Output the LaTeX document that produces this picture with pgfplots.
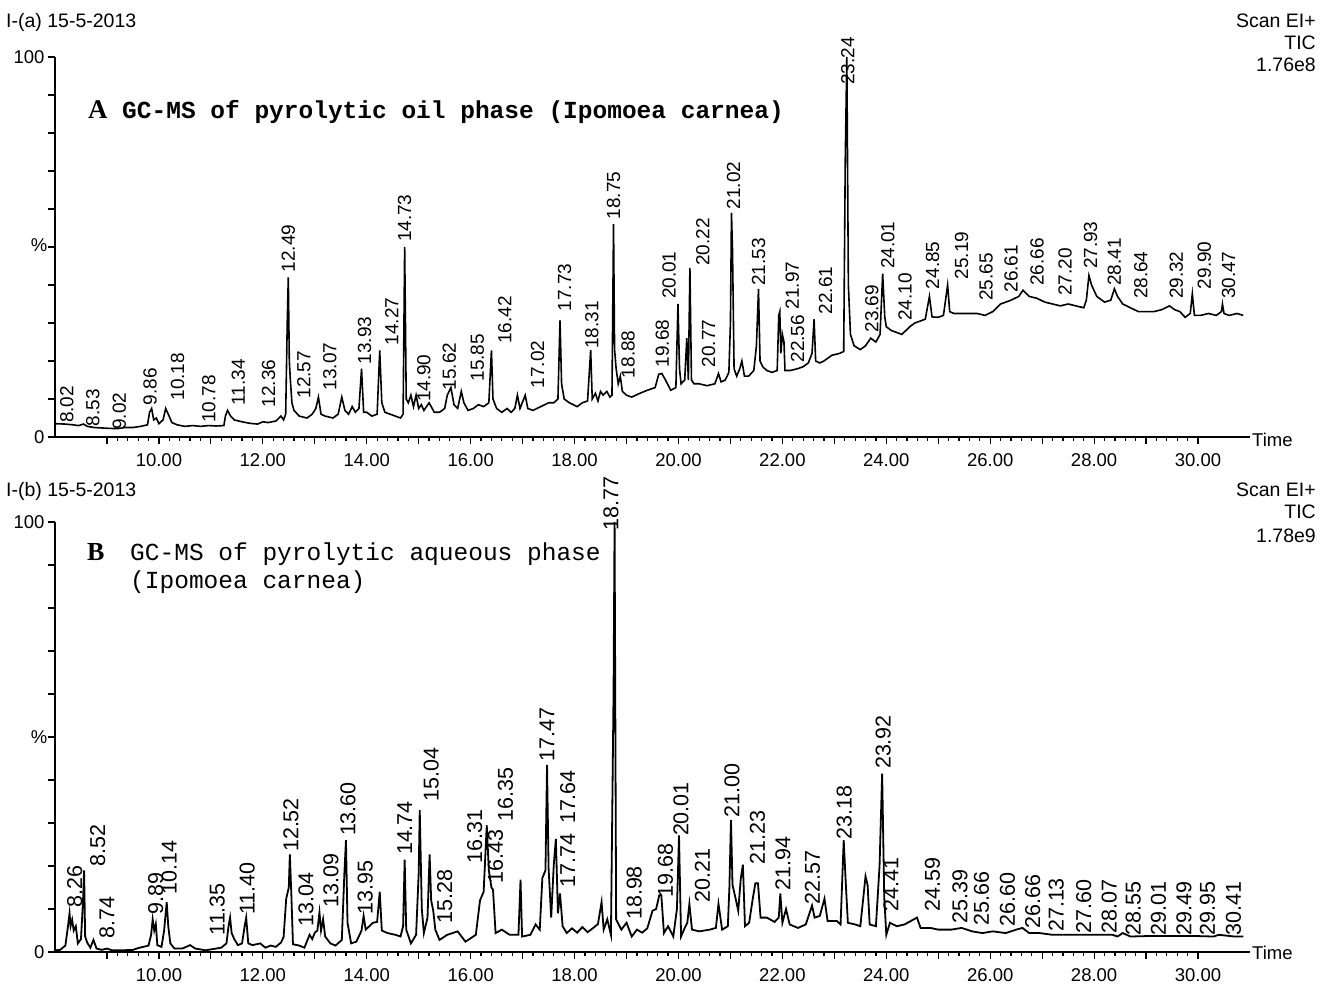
\documentclass[border=0pt]{standalone}
\usepackage{pgfplots}
\pgfplotsset{compat=1.18}
\usepackage{fontspec}
\setmainfont{Liberation Sans}
\newfontfamily\monofont{Liberation Mono}
\newfontfamily\seriffont{Liberation Serif}
\newcommand\hdr{\fontsize{19.5}{21}\selectfont}
\newcommand\tickf{\fontsize{18.5}{20}\selectfont}
\newcommand\ttl{\monofont\fontsize{24.5}{27}\selectfont}
\newcommand\pk[3]{\node[rotate=90,anchor=west,inner sep=1pt,font=\fontsize{19}{19}\selectfont] at (axis cs:#1,#2) {#3};}
\newcommand\pkb[3]{\node[rotate=90,anchor=west,inner sep=1pt,font=\fontsize{21.5}{21}\selectfont] at (axis cs:#1,#2) {#3};}

\pgfplotsset{
  gc/.style={
    scale only axis, anchor=south west, width=1195pt,
    xmin=8, xmax=31, ymin=0, ymax=100,
    axis x line*=bottom, axis y line*=left,
    axis line style={line width=1.8pt},
    tick align=outside,
    xtick={9,...,30},
    xticklabels={,10.00,,12.00,,14.00,,16.00,,18.00,,20.00,,22.00,,24.00,,26.00,,28.00,,30.00},
    minor x tick num=4,
    ytick={0,10,...,100},
    yticklabels={0,,,,,,,,,,100},
    major tick length=7pt, minor tick length=4pt,
    tick style={black, line width=1.2pt},
    xticklabel style={font=\tickf, yshift=-6pt},
    yticklabel style={font=\tickf},
    clip=false,
  }
}

\begin{document}
\begin{tikzpicture}[x=1pt,y=1pt]
\path[use as bounding box] (0,0) rectangle (1322,986);

% headers
\node[anchor=base west, inner sep=0, font=\hdr] at (6,958) {I-(a) 15-5-2013};
\node[anchor=base east, inner sep=0, font=\hdr] at (1316,958) {Scan EI+};
\node[anchor=base east, inner sep=0, font=\hdr] at (1316,936) {TIC};
\node[anchor=base east, inner sep=0, font=\hdr] at (1316,914) {1.76e8};
\node[anchor=base west, inner sep=0, font=\hdr] at (6,489) {I-(b) 15-5-2013};
\node[anchor=base east, inner sep=0, font=\hdr] at (1316,489) {Scan EI+};
\node[anchor=base east, inner sep=0, font=\hdr] at (1316,467) {TIC};
\node[anchor=base east, inner sep=0, font=\hdr] at (1316,443) {1.78e9};

% titles
\node[anchor=base west, inner sep=0, font=\seriffont\bfseries\fontsize{27}{29}\selectfont] at (88,867) {A};
\node[anchor=base west, inner sep=0, font=\ttl\bfseries] at (122,867) {GC-MS of pyrolytic oil phase (Ipomoea carnea)};
\node[anchor=base west, inner sep=0, font=\seriffont\bfseries\fontsize{26}{28}\selectfont] at (87,425) {B};
\node[anchor=base west, inner sep=0, font=\ttl] at (130,425) {GC-MS of pyrolytic aqueous phase};
\node[anchor=base west, inner sep=0, font=\ttl] at (130,397) {(Ipomoea carnea)};

% % and Time labels
\node[font=\tickf] at (39,741) {\%};
\node[font=\tickf] at (39,249) {\%};
\node[anchor=west, inner sep=0, font=\tickf] at (1252,546) {Time};
\node[anchor=west, inner sep=0, font=\tickf] at (1252,33) {Time};

% ---------------- top panel ----------------
\begin{axis}[gc, at={(55pt,549pt)}, height=380pt]
\addplot[black, line width=1.6pt] coordinates {
(8.00,3.5) (8.20,3.4) (8.35,3.2) (8.45,3.0) (8.55,3.4) (8.62,2.8) (8.75,2.5) (9.0,2.3)
(9.2,2.2) (9.35,2.5) (9.5,2.5) (9.65,2.8) (9.78,3.2) (9.82,6.5) (9.86,7.5) (9.90,4.5)
(9.95,5) (10.0,3.5) (10.08,4.5) (10.13,7.5) (10.18,6) (10.25,3.8) (10.35,3.2) (10.5,2.8)
(10.65,3.0) (10.8,2.8) (10.95,3.0) (11.1,2.9) (11.25,3.0) (11.28,5.5) (11.32,7.0) (11.38,5.5)
(11.45,4.5) (11.6,4.0) (11.75,3.6) (11.9,3.4) (12.0,4.0) (12.1,3.8) (12.25,4.2) (12.35,5.5)
(12.40,4.5) (12.44,6) (12.47,30) (12.49,42) (12.51,20) (12.53,15) (12.56,9) (12.60,7)
(12.7,5.5) (12.85,5) (12.95,6) (13.02,7.5) (13.07,10.5) (13.12,6) (13.2,5.5) (13.35,5)
(13.45,6) (13.52,10.5) (13.58,7) (13.65,6) (13.72,8) (13.78,6.5) (13.85,7.5) (13.90,18)
(13.94,6.5) (14.0,6.5) (14.1,5.5) (14.2,6) (14.25,22.8) (14.29,9) (14.35,6.5) (14.45,6)
(14.55,5.5) (14.65,5.0) (14.70,6) (14.73,50) (14.76,10) (14.8,9) (14.85,11) (14.9,8)
(14.95,11) (15.0,7.5) (15.05,8.5) (15.1,7) (15.2,9) (15.3,6.5) (15.4,6.5) (15.5,7.5)
(15.55,11) (15.62,13) (15.68,8.5) (15.75,7.5) (15.82,12) (15.87,9) (15.95,7) (16.05,7.5)
(16.15,8.5) (16.25,8) (16.35,9) (16.40,22.8) (16.43,10) (16.5,7.5) (16.6,6.5) (16.7,7.5)
(16.78,6.5) (16.85,7.5) (16.9,11) (16.95,7.5) (17.05,11) (17.1,7.5) (17.2,7) (17.35,8)
(17.5,9) (17.6,9) (17.68,10) (17.72,30.7) (17.75,14) (17.8,10) (17.9,9) (18.05,8)
(18.15,9) (18.25,9.5) (18.31,22.9) (18.34,10) (18.4,11.5) (18.45,9.5) (18.5,12) (18.55,11)
(18.62,12) (18.68,10.5) (18.72,11) (18.75,56) (18.77,23) (18.8,18) (18.84,14) (18.88,16)
(18.92,12) (19.0,11) (19.1,10.5) (19.24,11.4) (19.4,12.3) (19.55,13) (19.62,16.5) (19.68,16.7)
(19.75,15) (19.85,12.3) (19.95,13) (19.99,35) (20.02,18) (20.05,14) (20.12,15) (20.16,26)
(20.19,15) (20.22,44.5) (20.25,15) (20.3,14) (20.4,14) (20.55,13.5) (20.7,14) (20.77,16.7)
(20.82,14.5) (20.9,15) (20.97,17) (21.00,30) (21.02,59) (21.04,49) (21.07,18) (21.12,16)
(21.18,18) (21.22,20) (21.27,16) (21.35,16) (21.45,17.5) (21.50,24) (21.54,39) (21.57,20)
(21.62,18.5) (21.7,17.5) (21.8,17) (21.9,17.5) (21.93,32) (21.95,33) (21.97,22) (22.0,27)
(22.03,25) (22.05,17.5) (22.15,17.5) (22.3,18) (22.4,18.5) (22.5,19.5) (22.57,22) (22.61,31)
(22.64,20) (22.72,19.5) (22.8,20) (22.95,21.5) (23.1,22) (23.18,22.5) (23.21,73) (23.24,100)
(23.27,40) (23.31,27) (23.38,24) (23.5,23) (23.6,24) (23.7,26) (23.8,25) (23.88,27)
(23.93,43) (23.97,31.6) (24.0,29) (24.1,28) (24.2,27.5) (24.3,27) (24.45,29) (24.55,30)
(24.65,30.5) (24.75,31) (24.83,37) (24.88,31.6) (25.0,31.5) (25.1,32) (25.18,40) (25.22,33)
(25.3,32.5) (25.45,32.5) (25.6,32.5) (25.75,32.5) (25.9,32) (26.05,33) (26.2,35) (26.4,36)
(26.55,37) (26.63,38.6) (26.75,37) (26.9,36.5) (27.05,35.5) (27.2,35) (27.35,34.5) (27.5,35)
(27.65,34.5) (27.8,34) (27.85,36) (27.9,42.5) (27.95,40) (28.05,37) (28.2,35.5) (28.32,36)
(28.39,39) (28.45,37) (28.55,35) (28.7,34) (28.85,33) (29.0,33) (29.15,33) (29.3,33.5)
(29.45,34.5) (29.55,33.5) (29.65,33) (29.75,31.5) (29.85,32.5) (29.89,37.7) (29.93,32) (30.05,32)
(30.2,32.5) (30.35,32) (30.45,33) (30.47,35) (30.5,32.5) (30.6,32) (30.75,32.5) (30.87,32)
};
\pk{8.23}{3.4}{8.02}
\pk{8.73}{2.5}{8.53}
\pk{9.24}{1.6}{9.02}
\pk{9.83}{8}{9.86}
\pk{10.36}{9.3}{10.18}
\pk{10.96}{3.4}{10.78}
\pk{11.53}{8}{11.34}
\pk{12.11}{7.5}{12.36}
\pk{12.49}{43}{12.49}
\pk{12.79}{9.8}{12.57}
\pk{13.29}{12}{13.07}
\pk{13.96}{18.8}{13.93}
\pk{14.48}{23.8}{14.27}
\pk{14.73}{51}{14.73}
\pk{15.10}{8.9}{14.90}
\pk{15.59}{12}{15.62}
\pk{16.13}{14.3}{15.85}
\pk{16.66}{24.2}{16.42}
\pk{17.29}{12.5}{17.02}
\pk{17.81}{32.8}{17.73}
\pk{18.33}{22.9}{18.31}
\pk{18.75}{57}{18.75}
\pk{19.03}{15.2}{18.88}
\pk{19.69}{18}{19.68}
\pk{19.82}{36}{20.01}
\pk{20.47}{44.7}{20.22}
\pk{20.58}{18}{20.77}
\pk{21.06}{59.6}{21.02}
\pk{21.54}{39.5}{21.53}
\pk{22.19}{33.3}{21.97}
\pk{22.29}{19.3}{22.56}
\pk{22.83}{32}{22.61}
\pk{23.26}{92.4}{23.24}
\pk{23.72}{27.2}{23.69}
\pk{24.03}{43.9}{24.01}
\pk{24.36}{30.3}{24.10}
\pk{24.89}{38.6}{24.85}
\pk{25.45}{41.2}{25.19}
\pk{25.92}{35.5}{25.65}
\pk{26.40}{37.7}{26.61}
\pk{26.90}{39.5}{26.66}
\pk{27.44}{36.8}{27.20}
\pk{27.93}{43.9}{27.93}
\pk{28.39}{39.5}{28.41}
\pk{28.90}{36}{28.64}
\pk{29.58}{36}{29.32}
\pk{30.12}{38.6}{29.90}
\pk{30.59}{36}{30.47}
\end{axis}

% ---------------- bottom panel ----------------
\begin{axis}[gc, at={(55pt,34pt)}, height=430pt]
\addplot[black, line width=1.8pt] coordinates {
(8.00,0.4) (8.1,0.5) (8.2,1.5) (8.25,6) (8.28,9) (8.30,6) (8.33,7.5) (8.36,5) (8.40,6)
(8.44,2) (8.50,3) (8.54,12) (8.56,19) (8.58,3.6) (8.62,2.2) (8.68,1.0) (8.74,2.8) (8.80,0.8)
(8.9,0.5) (9.0,0.8) (9.1,0.4) (9.3,0.4) (9.5,0.5) (9.6,0.9) (9.7,1.2) (9.8,1.5) (9.85,4)
(9.88,7.6) (9.91,5) (9.94,6.5) (9.97,1.6) (10.05,1.2) (10.10,5) (10.15,11.6) (10.18,6) (10.22,2)
(10.3,0.8) (10.45,0.8) (10.6,1.6) (10.7,0.8) (10.9,0.4) (11.1,0.8) (11.2,1.0) (11.3,2) (11.34,6)
(11.37,8) (11.40,4.4) (11.45,3) (11.52,1.6) (11.6,2) (11.65,6) (11.68,8) (11.72,2) (11.8,1.6)
(11.95,2.0) (12.05,1.0) (12.15,1.5) (12.25,1.2) (12.35,2.2) (12.40,3.5) (12.45,12.4) (12.50,15) (12.52,22.7)
(12.55,13) (12.58,1.8) (12.7,1.5) (12.8,1.0) (12.9,4) (12.95,3) (13.0,4.5) (13.05,5) (13.09,9.2)
(13.12,5) (13.16,7.6) (13.2,3.6) (13.3,2.0) (13.4,1.5) (13.52,2.8) (13.57,18.4) (13.60,26) (13.63,6.8)
(13.7,2) (13.8,2.4) (13.9,5) (13.94,8.4) (13.98,5.2) (14.05,6) (14.12,6.8) (14.2,7) (14.25,14)
(14.29,5) (14.4,4.4) (14.55,4) (14.65,3.6) (14.70,6) (14.73,21.5) (14.76,5.2) (14.85,2) (14.95,4)
(15.0,18.4) (15.02,33) (15.06,10) (15.1,4.4) (15.17,8) (15.21,22.7) (15.24,12) (15.28,9.6) (15.32,5.2)
(15.4,2.8) (15.55,4) (15.75,4.8) (15.9,2.4) (16.1,4) (16.18,12) (16.25,14) (16.31,29.5) (16.35,19)
(16.40,15) (16.43,14.5) (16.48,4.4) (16.6,5.2) (16.75,4) (16.92,4) (16.96,16.8) (16.99,3.6) (17.15,4)
(17.25,6.4) (17.33,5.2) (17.38,17.2) (17.44,19) (17.47,43.5) (17.50,19.5) (17.55,8) (17.60,20.3) (17.64,26.3)
(17.68,9) (17.72,13.6) (17.77,6) (17.85,4.4) (17.95,5.5) (18.05,4.5) (18.15,5.8) (18.25,4.6) (18.35,5.5)
(18.45,6.5) (18.52,11.6) (18.56,5.2) (18.63,7.6) (18.70,4) (18.75,60) (18.77,100) (18.80,7.6) (18.9,5.2)
(19.0,6.8) (19.1,3.6) (19.2,5.2) (19.3,4.5) (19.40,5.5) (19.50,9.6) (19.57,10) (19.63,13.2) (19.67,13.2)
(19.72,4.4) (19.8,6) (19.9,3.6) (19.97,10) (20.01,27.1) (20.05,3.6) (20.12,5.6) (20.17,6.8) (20.21,11.2)
(20.26,5.2) (20.4,4.8) (20.6,5.2) (20.72,5.6) (20.77,11.2) (20.84,5.2) (20.95,6) (20.98,15) (21.01,30.7)
(21.04,15.6) (21.1,12.4) (21.15,9.6) (21.2,17.2) (21.24,20.3) (21.28,6) (21.36,6.8) (21.43,12.4) (21.48,16)
(21.53,16) (21.58,8) (21.7,8) (21.85,7) (21.93,8) (21.96,13.6) (22.0,6.8) (22.07,10) (22.14,6.4)
(22.3,5.6) (22.45,6.4) (22.57,10.8) (22.62,8) (22.72,8.4) (22.81,12.4) (22.87,7.2) (23.05,7.2) (23.12,6.4)
(23.18,26) (23.22,16) (23.26,6.8) (23.4,6.4) (23.5,6) (23.6,17.6) (23.64,15.6) (23.68,6.4) (23.8,6)
(23.87,20) (23.92,41.5) (23.96,12.8) (24.0,4) (24.07,6.8) (24.2,6) (24.35,6.4) (24.47,7.2) (24.59,8)
(24.66,5.6) (24.85,5.6) (25.0,5.2) (25.25,5.2) (25.45,5.6) (25.65,4.8) (25.85,4.4) (26.05,4.8) (26.3,4.4)
(26.5,5.2) (26.62,5.6) (26.75,4.4) (26.95,4.4) (27.2,4) (27.5,4) (28.0,4) (28.35,4) (28.45,3.6)
(28.55,4.4) (28.7,3.6) (29.0,3.7) (29.5,3.7) (30.0,3.7) (30.3,3.6) (30.4,4) (30.7,3.6) (30.87,3.6)
};
\pkb{8.38}{10}{8.26}
\pkb{8.82}{19.6}{8.52}
\pkb{9.0}{2.8}{8.74}
\pkb{9.94}{8.4}{9.89}
\pkb{10.2}{13.2}{10.14}
\pkb{11.12}{3.6}{11.35}
\pkb{11.7}{8.4}{11.40}
\pkb{12.54}{23}{12.52}
\pkb{12.83}{5.6}{13.04}
\pkb{13.31}{10}{13.09}
\pkb{13.64}{26.7}{13.60}
\pkb{13.97}{8.4}{13.95}
\pkb{14.73}{22.3}{14.74}
\pkb{15.24}{34.7}{15.04}
\pkb{15.5}{6.4}{15.28}
\pkb{16.08}{20.3}{16.31}
\pkb{16.67}{30}{16.35}
\pkb{16.48}{15.6}{16.43}
\pkb{17.47}{44}{17.47}
\pkb{17.87}{29.5}{17.64}
\pkb{17.87}{14.8}{17.74}
\pkb{18.70}{97.7}{18.77}
\pkb{19.15}{7.2}{18.98}
\pkb{19.75}{12.4}{19.68}
\pkb{20.05}{26.7}{20.01}
\pkb{20.46}{11.2}{20.21}
\pkb{21.03}{31}{21.00}
\pkb{21.52}{20}{21.23}
\pkb{22.01}{14}{21.94}
\pkb{22.58}{10.8}{22.57}
\pkb{23.19}{26}{23.18}
\pkb{23.94}{42.3}{23.92}
\pkb{24.09}{9.2}{24.41}
\pkb{24.89}{9.2}{24.59}
\pkb{25.42}{6.4}{25.39}
\pkb{25.83}{6}{25.66}
\pkb{26.33}{5.6}{26.60}
\pkb{26.82}{5.2}{26.66}
\pkb{27.27}{4.4}{27.13}
\pkb{27.8}{4}{27.60}
\pkb{28.29}{4}{28.07}
\pkb{28.75}{3.6}{28.55}
\pkb{29.24}{3.6}{29.01}
\pkb{29.73}{3.6}{29.49}
\pkb{30.18}{3.6}{29.95}
\pkb{30.68}{3.6}{30.41}
\end{axis}
\end{tikzpicture}
\end{document}
